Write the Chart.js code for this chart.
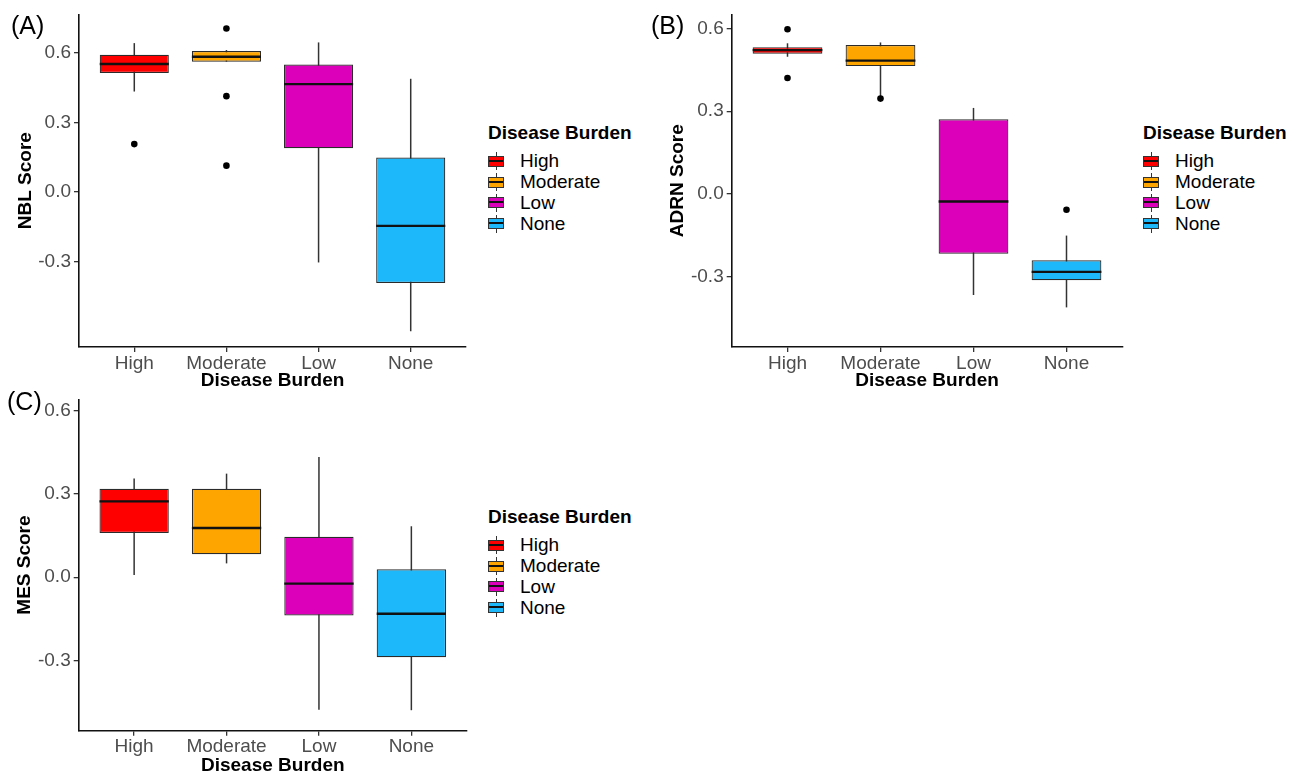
<!DOCTYPE html>
<html lang="en">
<head>
<meta charset="UTF-8">
<title>NBL, ADRN and MES scores by disease burden</title>
<script src="https://cdn.jsdelivr.net/npm/chart.js"></script>
<style>
    body {
        margin: 0;
        width: 1300px;
        height: 777px;
        overflow: hidden;
        position: relative;
        background: #fff;
        font-family: 'Liberation Sans', Arial, sans-serif;
    }
    canvas { position: absolute; }
    .tag {
        position: absolute;
        font-size: 25px;
        line-height: 25px;
        color: #000;
    }
    .legend { position: absolute; color: #000; }
    .legend-title {
        font-weight: bold;
        font-size: 19px;
        line-height: 22px;
        margin-bottom: 7px;
    }
    .legend-item {
        display: flex;
        align-items: center;
        height: 20.8px;
        font-size: 19px;
    }
    .key {
        position: relative;
        width: 16px;
        height: 18px;
        margin-right: 16px;
    }
    .key .stub {
        position: absolute;
        left: 7.5px;
        top: 0;
        width: 1px;
        height: 18px;
        background: #333;
    }
    .key .box {
        position: absolute;
        left: 0;
        top: 3.5px;
        width: 16px;
        height: 11px;
        box-sizing: border-box;
        border: 1.5px solid #333;
    }
    .key .mid {
        position: absolute;
        left: 0;
        right: 0;
        top: 3px;
        height: 2px;
        background: #111;
    }
</style>
</head>
<body>
<canvas id="nblChart" width="470" height="395" style="left:0;top:0"></canvas>
<canvas id="adrnChart" width="480" height="395" style="left:650px;top:0"></canvas>
<canvas id="mesChart" width="470" height="392" style="left:0;top:385px"></canvas>

<div class="tag" style="left:11px;top:13px">(A)</div>
<div class="tag" style="left:651px;top:13px">(B)</div>
<div class="tag" style="left:7px;top:389px">(C)</div>

<div class="legend" id="legendA" style="left:488px;top:122px"></div>
<div class="legend" id="legendB" style="left:1143px;top:122px"></div>
<div class="legend" id="legendC" style="left:488px;top:506px"></div>

<script>
    const categories = ['High', 'Moderate', 'Low', 'None'];
    const boxFills = ['#FF0000', '#FFA500', '#DD00BB', '#1CB8FA'];
    const yTicks = [-0.3, 0.0, 0.3, 0.6];

    // (A) NBL score
    const nblLower  = [0.434, 0.563, -0.304, -0.601];
    const nblQ1     = [0.514, 0.563, 0.189, -0.393];
    const nblMedian = [0.553, 0.584, 0.466, -0.146];
    const nblQ3     = [0.593, 0.609, 0.551, 0.149];
    const nblUpper  = [0.643, 0.613, 0.646, 0.489];
    const nblOutlierGroup = ['High', 'Moderate', 'Moderate', 'Moderate'];
    const nblOutlierValue = [0.207, 0.706, 0.414, 0.114];

    // (B) ADRN score
    const adrnLower  = [0.498, 0.346, -0.368, -0.413];
    const adrnQ1     = [0.509, 0.464, -0.218, -0.314];
    const adrnMedian = [0.522, 0.484, -0.028, -0.284];
    const adrnQ3     = [0.533, 0.541, 0.271, -0.242];
    const adrnUpper  = [0.547, 0.550, 0.312, -0.152];
    const adrnOutlierGroup = ['High', 'High', 'Moderate', 'None'];
    const adrnOutlierValue = [0.598, 0.421, 0.346, -0.058];

    // (C) MES score
    const mesLower  = [0.008, 0.050, -0.478, -0.480];
    const mesQ1     = [0.160, 0.083, -0.138, -0.289];
    const mesMedian = [0.274, 0.178, -0.023, -0.132];
    const mesQ3     = [0.319, 0.319, 0.146, 0.029];
    const mesUpper  = [0.356, 0.374, 0.434, 0.184];
    const mesOutlierGroup = [];
    const mesOutlierValue = [];

    const FONT = "'Liberation Sans', Arial, sans-serif";

    // whiskers under the boxes, medians on top
    const boxWhiskers = {
        id: 'boxWhiskers',
        beforeDatasetsDraw(chart, args, opts) {
            const meta = chart.getDatasetMeta(0);
            const y = chart.scales.y;
            const ctx = chart.ctx;
            ctx.save();
            ctx.strokeStyle = '#333';
            ctx.lineWidth = 1.5;
            meta.data.forEach((bar, i) => {
                ctx.beginPath();
                ctx.moveTo(bar.x, y.getPixelForValue(opts.lower[i]));
                ctx.lineTo(bar.x, y.getPixelForValue(opts.upper[i]));
                ctx.stroke();
            });
            ctx.restore();
        },
        afterDatasetsDraw(chart, args, opts) {
            const meta = chart.getDatasetMeta(0);
            const y = chart.scales.y;
            const ctx = chart.ctx;
            ctx.save();
            ctx.strokeStyle = '#111';
            ctx.lineWidth = 2.4;
            meta.data.forEach((bar, i) => {
                const py = y.getPixelForValue(opts.median[i]);
                ctx.beginPath();
                ctx.moveTo(bar.x - bar.width / 2, py);
                ctx.lineTo(bar.x + bar.width / 2, py);
                ctx.stroke();
            });
            ctx.restore();
        }
    };

    function makePanel(id, p) {
        const boxes = categories.map((c, i) => ({ x: i + 1, y: [p.q1[i], p.q3[i]] }));
        const outliers = p.outGroup.map((g, i) => ({ x: categories.indexOf(g) + 1, y: p.outValue[i] }));
        return new Chart(document.getElementById(id), {
            type: 'bar',
            data: {
                datasets: [
                    {
                        data: boxes,
                        backgroundColor: boxFills,
                        borderColor: '#2b2b2b',
                        borderWidth: 1.2,
                        borderSkipped: false,
                        categoryPercentage: 1,
                        barPercentage: 0.75
                    },
                    {
                        type: 'scatter',
                        data: outliers,
                        pointRadius: 3.3,
                        pointBackgroundColor: '#000',
                        pointBorderWidth: 0
                    }
                ]
            },
            options: {
                responsive: false,
                animation: false,
                layout: { padding: p.padding },
                plugins: {
                    legend: { display: false },
                    tooltip: { enabled: false },
                    boxWhiskers: { lower: p.lower, upper: p.upper, median: p.median }
                },
                scales: {
                    x: {
                        type: 'linear',
                        min: 0.4,
                        max: 4.6,
                        offset: false,
                        afterBuildTicks: s => { s.ticks = categories.map((c, i) => ({ value: i + 1 })); },
                        afterFit: s => { s.height = p.xHeight; },
                        ticks: {
                            callback: v => categories[v - 1],
                            color: '#4d4d4d',
                            font: { family: FONT, size: 19 },
                            padding: 0,
                            maxRotation: 0
                        },
                        grid: { offset: false, drawOnChartArea: false, drawTicks: true, tickLength: 5, color: '#333', lineWidth: 1.3 },
                        border: { display: true, color: '#111', width: 1.6 },
                        title: {
                            display: true,
                            text: 'Disease Burden',
                            color: '#000',
                            font: { family: FONT, size: 19, weight: 'bold' },
                            padding: { top: 0, bottom: p.xTitlePad }
                        }
                    },
                    y: {
                        min: p.yMin,
                        max: p.yMax,
                        afterBuildTicks: s => { s.ticks = yTicks.map(v => ({ value: v })); },
                        afterFit: s => { s.width = p.yWidth; },
                        ticks: {
                            callback: v => v.toFixed(1),
                            color: '#4d4d4d',
                            font: { family: FONT, size: 19 },
                            padding: 3
                        },
                        grid: { drawOnChartArea: false, drawTicks: true, tickLength: 5, color: '#333', lineWidth: 1.3 },
                        border: { display: true, color: '#111', width: 1.6 },
                        title: {
                            display: true,
                            text: p.yTitle,
                            color: '#000',
                            font: { family: FONT, size: 19, weight: 'bold' },
                            padding: { top: p.yTitlePad, bottom: 0 }
                        }
                    }
                }
            },
            plugins: [boxWhiskers]
        });
    }

    makePanel('nblChart', {
        q1: nblQ1, q3: nblQ3, median: nblMedian, lower: nblLower, upper: nblUpper,
        outGroup: nblOutlierGroup, outValue: nblOutlierValue,
        yMin: -0.669, yMax: 0.767, yTitle: 'NBL Score',
        padding: { left: 0, right: 1.7, top: 12, bottom: 0 },
        yWidth: 79, xHeight: 48, yTitlePad: 14.6, xTitlePad: 3
    });

    makePanel('adrnChart', {
        q1: adrnQ1, q3: adrnQ3, median: adrnMedian, lower: adrnLower, upper: adrnUpper,
        outGroup: adrnOutlierGroup, outValue: adrnOutlierValue,
        yMin: -0.557, yMax: 0.652, yTitle: 'ADRN Score',
        padding: { left: 0, right: 7.7, top: 12, bottom: 0 },
        yWidth: 81.7, xHeight: 48, yTitlePad: 16.3, xTitlePad: 3
    });

    makePanel('mesChart', {
        q1: mesQ1, q3: mesQ3, median: mesMedian, lower: mesLower, upper: mesUpper,
        outGroup: mesOutlierGroup, outValue: mesOutlierValue,
        yMin: -0.554, yMax: 0.642, yTitle: 'MES Score',
        padding: { left: 0, right: 3.2, top: 13.3, bottom: 0 },
        yWidth: 78.7, xHeight: 46.3, yTitlePad: 13.6, xTitlePad: 0
    });

    // legends (same content for every panel)
    ['legendA', 'legendB', 'legendC'].forEach(id => {
        const el = document.getElementById(id);
        let html = '<div class="legend-title">Disease Burden</div>';
        categories.forEach((c, i) => {
            html += '<div class="legend-item"><div class="key"><div class="stub"></div>' +
                '<div class="box" style="background:' + boxFills[i] + '"><div class="mid"></div></div></div>' +
                c + '</div>';
        });
        el.innerHTML = html;
    });
</script>
</body>
</html>
